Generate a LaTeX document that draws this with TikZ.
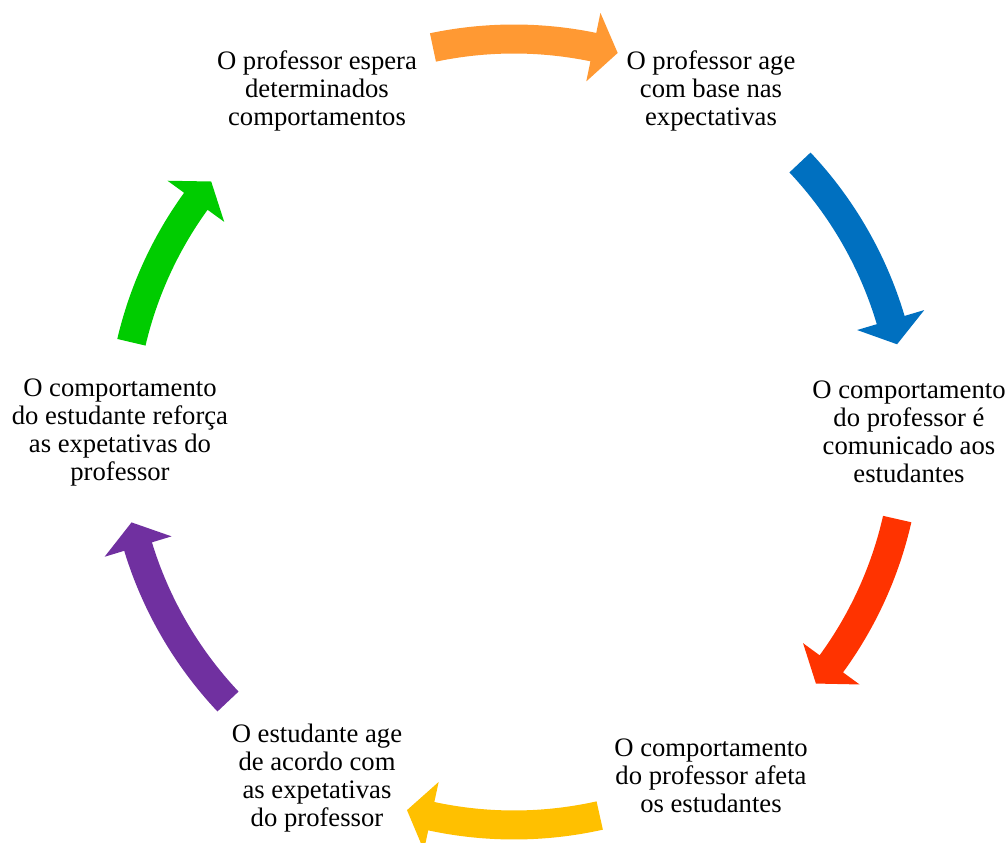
\documentclass[tikz,border=0pt]{standalone}
\usepackage{fontspec}
\setmainfont{Liberation Serif}
\definecolor{cOrange}{HTML}{FF9933}
\definecolor{cBlue}{HTML}{0070C0}
\definecolor{cRed}{HTML}{FF3300}
\definecolor{cYellow}{HTML}{FFC000}
\definecolor{cPurple}{HTML}{7030A0}
\definecolor{cGreen}{HTML}{00CC00}
% radii of the curved arrows: outer/inner shaft edge, mid line, head edges
\def\Ro{407.5}
\def\Ri{378.5}
\def\Rm{393}
\def\Rho{428}
\def\Rhi{358}
\def\hd{3.65}
% curved block arrow along the cycle: colour, tail angle, tip angle
\newcommand\cycarrow[3]{%
  \fill[#1] ({#2}:\Ro) arc[start angle={#2}, end angle={#3+\hd}, radius=\Ro]
    -- ({#3+\hd}:\Rho) -- ({#3}:\Rm) -- ({#3+\hd}:\Rhi) -- ({#3+\hd}:\Ri)
    arc[start angle={#3+\hd}, end angle={#2}, radius=\Ri] -- cycle;}
\tikzset{
  step text/.style={align=center, inner sep=0pt,
    font=\fontsize{20}{21}\selectfont, text=black}
}
\begin{document}
\begin{tikzpicture}[x=0.75pt, y=0.75pt]
\useasboundingbox (-514,-411) rectangle (494,432);
\fill[white] (-514,-411) rectangle (494,432);

\node[step text] (espera) at (-197,341) {O professor espera\\determinados\\comportamentos};
\node[step text] (age) at (197,341) {O professor age\\com base nas\\expectativas};
\node[step text] (comunica) at (395,0) {O comportamento\\do professor é\\comunicado aos\\estudantes};
\node[step text] (afeta) at (197,-344) {O comportamento\\do professor afeta\\os estudantes};
\node[step text] (estudante) at (-197,-346) {O estudante age\\de acordo com\\as expetativas\\do professor};
\node[step text] (reforca) at (-394,-1) {O comportamento\\do estudante reforça\\as expetativas do\\professor};

\cycarrow{cOrange}{101.9}{74.7}
\cycarrow{cBlue}{43.3}{12.9}
\cycarrow{cRed}{-12.8}{-39.8}
\cycarrow{cYellow}{-77.4}{-105.8}
\cycarrow{cPurple}{-136.7}{-166.7}
\cycarrow{cGreen}{166.8}{140.4}
\end{tikzpicture}
\end{document}
